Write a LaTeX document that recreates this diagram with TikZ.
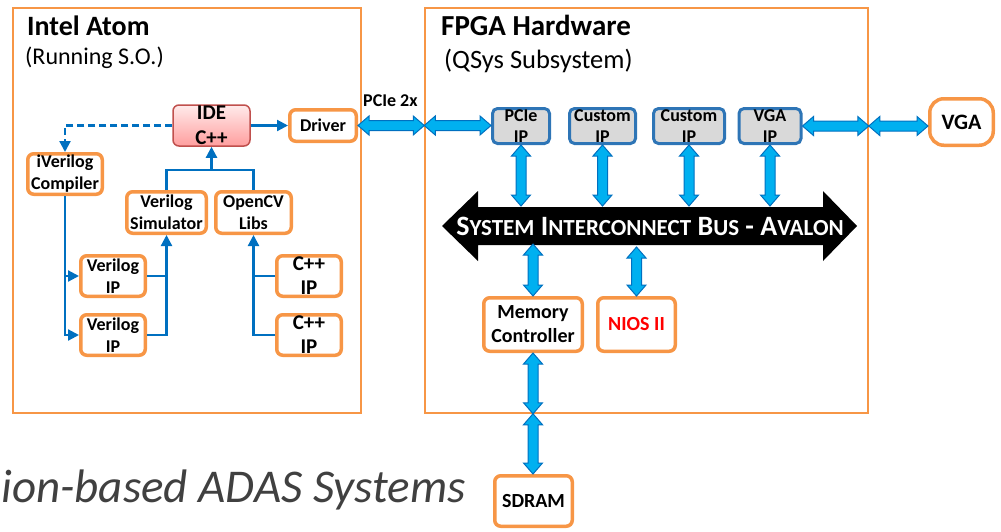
\documentclass[tikz,border=0pt]{standalone}
\usepackage{fontspec}
\setmainfont{Carlito}
\usetikzlibrary{calc,arrows.meta}
\definecolor{org}{HTML}{F79646}
\definecolor{cblue}{HTML}{0070C0}
\definecolor{fatfill}{HTML}{00B0F0}
\definecolor{ipfill}{HTML}{D9D9D9}
\definecolor{ipline}{HTML}{2E75B6}
\definecolor{idel}{HTML}{C0504D}
\definecolor{txtgrey}{HTML}{404040}
\newcommand{\fs}[2]{\fontsize{#1}{#2}\selectfont}
\newcommand{\bsc}[2]{#1{\fs{23}{23}#2}}
\tikzset{
 frame/.style={draw=org, line width=1.5pt, inner sep=0},
 obox/.style={draw=org, line width=3.5pt, rounded corners=6pt, fill=white, inner sep=0, align=center, font=\fs{18}{22}\bfseries},
 ipbox/.style={draw=ipline, line width=3pt, rounded corners=5pt, fill=ipfill, inner sep=0, align=center, font=\fs{18}{21}\bfseries},
 conn/.style={draw=cblue, line width=2.2pt, -{Triangle[length=11pt,width=11pt]}},
 plainc/.style={draw=cblue, line width=2.2pt},
 hfat/.style={draw=cblue, fill=fatfill, line width=1pt, to path={let \p1=(\tikztostart), \p2=(\tikztotarget) in
   (\x1,\y1) -- (\x1+11pt,\y1+9.5pt) -- (\x1+11pt,\y1+5pt) -- (\x2-11pt,\y1+5pt) -- (\x2-11pt,\y1+9.5pt) -- (\x2,\y1)
   -- (\x2-11pt,\y1-9.5pt) -- (\x2-11pt,\y1-5pt) -- (\x1+11pt,\y1-5pt) -- (\x1+11pt,\y1-9.5pt) -- cycle}},
 vfat/.style={draw=cblue, fill=fatfill, line width=1pt, to path={let \p1=(\tikztostart), \p2=(\tikztotarget) in
   (\x1,\y1) -- (\x1+9.5pt,\y1-11pt) -- (\x1+5pt,\y1-11pt) -- (\x1+5pt,\y2+11pt) -- (\x1+9.5pt,\y2+11pt) -- (\x1,\y2)
   -- (\x1-9.5pt,\y2+11pt) -- (\x1-5pt,\y2+11pt) -- (\x1-5pt,\y1-11pt) -- (\x1-9.5pt,\y1-11pt) -- cycle}},
}
\begin{document}
\begin{tikzpicture}[x=1pt,y=-1pt]
\useasboundingbox (0,0) rectangle (1001,531);
% frames
\node[frame, minimum width=348pt, minimum height=405pt] (lf) at (187,210.5) {};
\node[frame, minimum width=443pt, minimum height=405pt] (rf) at (646.5,210.5) {};
% titles
\node[anchor=base west, inner sep=0, font=\fs{28}{28}\bfseries] (t1) at (27,35) {Intel Atom};
\node[anchor=base west, inner sep=0, font=\fs{24}{24}] (t2) at (25,64) {(Running S.O.)};
\node[anchor=base west, inner sep=0, font=\fs{29}{29}\bfseries] (t3) at (441,35) {FPGA Hardware};
\node[anchor=base west, inner sep=0, font=\fs{26.5}{26.5}] (t4) at (444,68) {(QSys Subsystem)};
\node[anchor=base west, inner sep=0, font=\fs{18}{18}\bfseries] (t5) at (363,106) {PCIe 2x};
% left nodes
\node[draw=idel, line width=1.5pt, rounded corners=6pt, top color=red!8, bottom color=red!38, minimum width=77pt, minimum height=41pt, inner sep=0, align=center, font=\fs{21}{25}\bfseries] (ide) at (211.5,125.5) {IDE\\C++};
\node[obox, minimum width=66.5pt, minimum height=31.5pt] (drv) at (323,125.5) {Driver};
\node[obox, minimum width=74.5pt, minimum height=40.5pt] (iv) at (65,174) {iVerilog\\Compiler};
\node[obox, minimum width=79.5pt, minimum height=41.5pt] (sim) at (166.5,212.5) {Verilog\\Simulator};
\node[obox, minimum width=75.5pt, minimum height=41.5pt] (ocv) at (253.5,212.5) {OpenCV\\Libs};
\node[obox, minimum width=64.5pt, minimum height=40.5pt] (vip1) at (113,276) {Verilog\\IP};
\node[obox, minimum width=64.5pt, minimum height=40.5pt] (vip2) at (113,335) {Verilog\\IP};
\node[obox, minimum width=64.5pt, minimum height=40.5pt, font=\fs{21}{24}\bfseries] (cpp1) at (309,276) {C++\\IP};
\node[obox, minimum width=64.5pt, minimum height=40.5pt, font=\fs{21}{24}\bfseries] (cpp2) at (309,335) {C++\\IP};
% left connectors
\draw[conn] (ide.east) -- (drv.west);
\draw[conn, dash pattern=on 7pt off 4pt] (ide.west) -| (iv.north);
\draw[conn] (iv.south) |- (vip1.west);
\draw[conn] (iv.south) |- (vip2.west);
\draw[plainc] (vip1.east) -- (vip1.east -| sim.south);
\draw[conn] (vip2.east) -| (sim.south);
\draw[plainc] (cpp1.west) -- (cpp1.west -| ocv.south);
\draw[conn] (cpp2.west) -| (ocv.south);
\coordinate (jn) at (211.5,170);
\draw[plainc] (sim.north) |- (jn) -| (ocv.north);
\draw[conn] (jn) -- (ide.south);
% right nodes
\node[ipbox, minimum width=57pt, minimum height=35pt] (pcie) at (521,126) {PCIe\\IP};
\node[ipbox, minimum width=66pt, minimum height=35pt] (cus1) at (602.5,126) {Custom\\IP};
\node[ipbox, minimum width=71pt, minimum height=35pt] (cus2) at (689,126) {Custom\\IP};
\node[ipbox, minimum width=62pt, minimum height=35pt] (vgaip) at (770,126) {VGA\\IP};
\node[obox, rounded corners=14pt, minimum width=63.5pt, minimum height=46.5pt, font=\fs{22}{22}\bfseries] (vga) at (961.5,122) {VGA};
\node[obox, minimum width=98.5pt, minimum height=53.5pt, font=\fs{20}{24}\bfseries] (mem) at (533,324.5) {Memory\\Controller};
\node[obox, minimum width=77.5pt, minimum height=53.5pt, font=\fs{20}{24}\bfseries, text=red] (nios) at (636.5,324.5) {NIOS II};
\node[obox, minimum width=77.5pt, minimum height=50.5pt, font=\fs{20}{20}\bfseries] (sdram) at (533.5,501) {SDRAM};
% bus
\fill[black] (442,226) -- (478,191) -- (478,207) -- (823,207) -- (823,191) -- (857,226) -- (823,261) -- (823,245) -- (478,245) -- (478,261) -- cycle;
\node[text=white, inner sep=0, font=\fs{28}{28}\bfseries] (bus) at (650,226) {\bsc{S}{YSTEM} \bsc{I}{NTERCONNECT} \bsc{B}{US} - \bsc{A}{VALON}};
\coordinate (busT) at (650,206);
\coordinate (busB) at (650,244);
% fat arrows
\draw[hfat] (drv.east) to (rf.west |- drv.east);
\draw[hfat] (rf.west |- drv.east) to (pcie.west |- drv.east);
\draw[hfat] (vgaip.east) to (rf.east |- vgaip.east);
\draw[hfat] (rf.east |- vgaip.east) to (vga.west |- vgaip.east);
\draw[vfat] (pcie.south) to (pcie.south |- busT);
\draw[vfat] (cus1.south) to (cus1.south |- busT);
\draw[vfat] (cus2.south) to (cus2.south |- busT);
\draw[vfat] (vgaip.south) to (vgaip.south |- busT);
\draw[vfat] (mem.north |- busB) to (mem.north);
\draw[vfat] (nios.north |- 0,247) to (nios.north);
\draw[vfat] (mem.south) to (mem.south |- rf.south);
\draw[vfat] (mem.south |- rf.south) to (sdram.north);
% bottom text
\node[anchor=base east, inner sep=0, text=txtgrey, font=\fs{47}{47}\itshape] (cap) at (466,502) {ion-based ADAS Systems};
\end{tikzpicture}
\end{document}
